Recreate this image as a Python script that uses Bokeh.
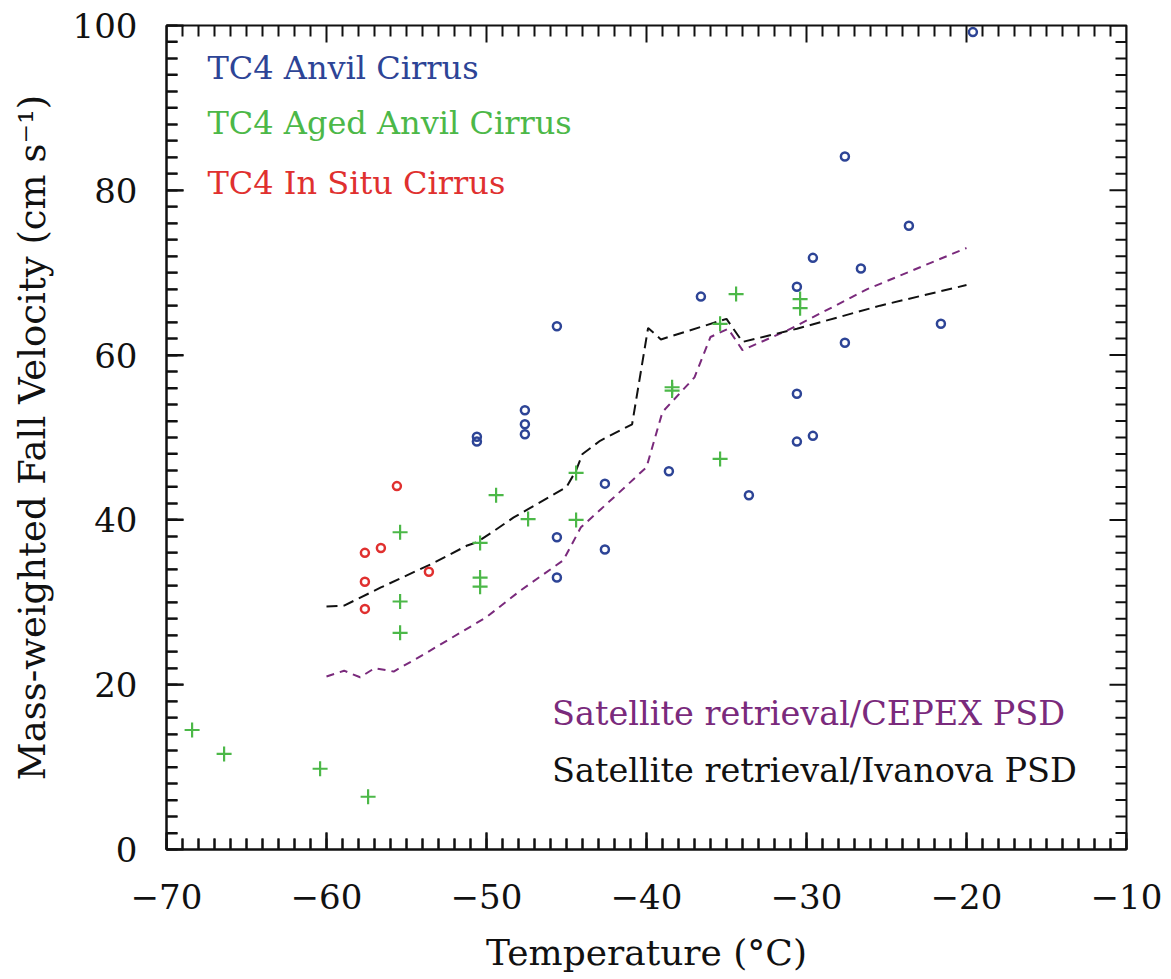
import numpy as np
from bokeh.plotting import figure
from bokeh.models import SingleIntervalTicker, Label, Range1d, ColumnDataSource
from bokeh.embed import file_html
from bokeh.resources import INLINE

# ---------------- data ----------------
anvil_T = [-50.6, -50.6, -47.6, -47.6, -47.6, -45.6, -45.6, -45.6, -42.6, -42.6, -38.6,
           -36.6, -33.6, -30.6, -30.6, -30.6, -29.6, -29.6, -27.6, -27.6, -26.6, -23.6,
           -21.6, -19.6]
anvil_V = [50.1, 49.5, 53.3, 51.6, 50.4, 63.5, 37.9, 33.0, 44.4, 36.4, 45.9,
           67.1, 43.0, 68.3, 55.3, 49.5, 71.8, 50.2, 84.1, 61.5, 70.5, 75.7,
           63.8, 99.2]

aged_T = [-68.4, -66.4, -60.4, -57.4, -55.4, -55.4, -55.4, -49.4, -50.4, -50.4, -50.4,
          -47.4, -44.4, -44.4, -38.4, -38.4, -35.4, -34.4, -30.4, -30.4, -35.4]
aged_V = [14.5, 11.6, 9.8, 6.4, 38.5, 30.1, 26.3, 43.0, 37.2, 33.0, 31.9,
          40.1, 45.7, 40.0, 56.1, 55.7, 63.8, 67.4, 66.8, 65.7, 47.4]

insitu_T = [-55.6, -56.6, -57.6, -57.6, -57.6, -53.6]
insitu_V = [44.1, 36.6, 36.0, 32.5, 29.2, 33.7]

ivanova_T = [-60.0, -58.9, -56.6, -53.5, -51.2, -50.6, -49.5, -48.3, -45.0, -44.4, -44.0,
             -42.9, -40.9, -39.9, -39.1, -35.0, -34.0, -30.6, -25.4, -20.0]
ivanova_V = [29.5, 29.6, 31.8, 34.6, 36.9, 37.3, 38.7, 40.3, 44.0, 46.0, 48.0,
             49.6, 51.6, 63.3, 61.9, 64.4, 61.6, 63.2, 66.0, 68.5]

cepex_T = [-60.0, -58.9, -57.9, -57.0, -55.8, -53.9, -50.0, -47.9, -45.2, -44.1, -42.0,
           -40.0, -39.0, -37.0, -36.0, -34.9, -34.0, -31.2, -26.2, -20.0]
cepex_V = [21.0, 21.7, 20.9, 22.0, 21.6, 23.7, 28.2, 31.4, 35.1, 39.1, 42.8,
           46.4, 53.1, 57.3, 62.2, 63.2, 60.6, 63.0, 68.0, 73.0]

x_ticks = [-70, -60, -50, -40, -30, -20, -10]
x_tick_labels = ["\u221270", "\u221260", "\u221250", "\u221240", "\u221230", "\u221220", "\u221210"]
y_ticks = [0, 20, 40, 60, 80, 100]
y_tick_labels = ["0", "20", "40", "60", "80", "100"]

series_names = ["TC4 Anvil Cirrus", "TC4 Aged Anvil Cirrus", "TC4 In Situ Cirrus"]
line_names = ["Satellite retrieval/CEPEX PSD", "Satellite retrieval/Ivanova PSD"]

# ---------------- style ----------------
FONT = "DejaVu Serif"
BLUE = "#2d4496"
GREEN = "#4cb848"
RED = "#e0302f"
PURPLE = "#7a2a7c"
BLACK = "#111111"

X0, X1, Y0, Y1 = -70.0, -10.0, 0.0, 100.0
p = figure(width=1171, height=979, output_backend="svg", toolbar_location=None,
           x_range=Range1d(X0, X1), y_range=Range1d(Y0, Y1),
           min_border_left=166, min_border_right=45, min_border_top=25, min_border_bottom=130)
p.xgrid.visible = False
p.ygrid.visible = False
p.outline_line_color = BLACK
p.outline_line_width = 2
p.background_fill_color = "white"
p.border_fill_color = "white"

def style_axis(ax):
    ax.axis_line_color = BLACK
    ax.axis_line_width = 2
    ax.major_tick_line_color = BLACK
    ax.minor_tick_line_color = BLACK
    ax.major_tick_line_width = 2
    ax.minor_tick_line_width = 2
    ax.major_tick_in = 17
    ax.major_tick_out = 0
    ax.minor_tick_in = 11
    ax.minor_tick_out = 0
    ax.major_label_text_font = FONT
    ax.axis_label_text_font = FONT
    ax.axis_label_text_font_style = "normal"
    ax.axis_label_text_color = BLACK
    ax.major_label_text_color = BLACK
    ax.major_label_text_font_size = "34px"

xa = p.xaxis[0]
xa.ticker = SingleIntervalTicker(interval=10, num_minor_ticks=10)
style_axis(xa)
xa.major_label_overrides = {t: s for t, s in zip(x_ticks, x_tick_labels)}
xa.axis_label = "Temperature (\u00b0C)"
xa.axis_label_text_font_size = "36px"
xa.major_label_standoff = 34
xa.axis_label_standoff = 20

ya = p.yaxis[0]
ya.ticker = SingleIntervalTicker(interval=20, num_minor_ticks=10)
style_axis(ya)
ya.major_label_overrides = {t: s for t, s in zip(y_ticks, y_tick_labels)}
ya.axis_label = "Mass-weighted Fall Velocity (cm s\u207b\u00b9)"
ya.axis_label_text_font_size = "37px"
ya.major_label_standoff = 29
ya.axis_label_standoff = 16

# inward ticks on all four sides (computed from the ranges), as multi_line
px_per_x = 960.0 / (X1 - X0)
px_per_y = 824.0 / (Y1 - Y0)
MAJ, MIN = 17.0, 11.0
xs, ys = [], []
for i in range(int(X1 - X0) + 1):
    t = X0 + i
    d = (MAJ if i % 10 == 0 else MIN) / px_per_y
    xs.append([t, t]); ys.append([Y0, Y0 + d])
    xs.append([t, t]); ys.append([Y1, Y1 - d])
for j in range(int((Y1 - Y0) / 2) + 1):
    t = Y0 + 2 * j
    d = (MAJ if j % 10 == 0 else MIN) / px_per_x
    xs.append([X0, X0 + d]); ys.append([t, t])
    xs.append([X1, X1 - d]); ys.append([t, t])
tick_src = ColumnDataSource(data=dict(xs=xs, ys=ys))
p.multi_line(xs="xs", ys="ys", source=tick_src, line_color=BLACK, line_width=2)

# lines
p.line(cepex_T, cepex_V, line_color=PURPLE, line_width=2, line_dash="8 6")
p.line(ivanova_T, ivanova_V, line_color=BLACK, line_width=2, line_dash="11 6")

# points
p.scatter(anvil_T, anvil_V, marker="circle", size=8, fill_color=None,
          line_color=BLUE, line_width=2.5)
p.scatter(insitu_T, insitu_V, marker="circle", size=8, fill_color=None,
          line_color=RED, line_width=2.5)
p.scatter(aged_T, aged_V, marker="cross", size=15, line_color=GREEN, line_width=2.2)

# text labels (legend-like annotations)
legend_x = -67.44
legend_y = [94.85, 88.15, 80.85]
for name, yy, col in zip(series_names, legend_y, [BLUE, GREEN, RED]):
    p.add_layout(Label(x=legend_x, y=yy, text=name, text_color=col,
                       text_font=FONT, text_font_size="32px",
                       text_baseline="alphabetic", text_align="left"))

lines_x = -45.9
lines_y = [16.5, 9.55]
for name, yy, col in zip(line_names, lines_y, [PURPLE, BLACK]):
    p.add_layout(Label(x=lines_x, y=yy, text=name, text_color=col,
                       text_font=FONT, text_font_size="33.5px",
                       text_baseline="alphabetic", text_align="left"))

open("out.html", "w").write(file_html(p, INLINE))
